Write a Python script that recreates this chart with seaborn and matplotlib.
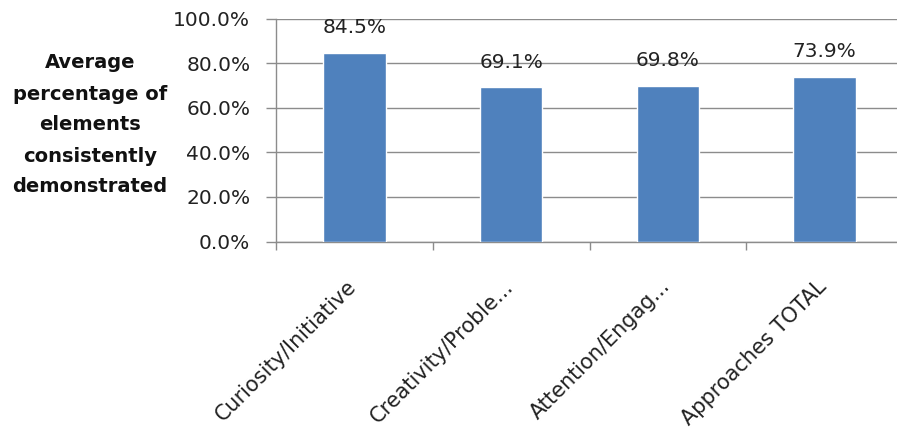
import matplotlib
matplotlib.use("Agg")
import matplotlib.pyplot as plt
import matplotlib.transforms as mtransforms
import seaborn as sns
import pandas as pd

categories = ["Curiosity/Initiative", "Creativity/Proble...", "Attention/Engag...", "Approaches TOTAL"]
values = [84.5, 69.1, 69.8, 73.9]
y_ticks = [0, 20, 40, 60, 80, 100]

df = pd.DataFrame({"category": categories, "value": values})

sns.set_theme(style="white")
plt.rcParams["font.family"] = ["DejaVu Sans"]

fs = 14.5
grey = "#8c8c8c"
text_col = "#222222"

fig = plt.figure(figsize=(8.97, 4.32), dpi=100)
ax = fig.add_axes([276 / 897, 1 - 241.5 / 432, 627 / 897, (241.5 - 18.5) / 432])

sns.barplot(data=df, x="category", y="value", color="#4F81BD", width=0.4,
            saturation=1, ax=ax, zorder=3)

ax.set_ylim(0, 100)
ax.set_xlim(-0.5, len(categories) - 0.5)
ax.set_yticks(y_ticks)
ax.set_yticklabels([f"{t:.1f}%" for t in y_ticks], fontsize=fs, color=text_col)
ax.yaxis.grid(True, color=grey, lw=1)
ax.set_axisbelow(True)

# category ticks sit between the bars
ax.set_xticks([i - 0.5 for i in range(len(categories) + 1)], minor=False)
ax.set_xticklabels([""] * (len(categories) + 1))
ax.set_xticks(range(len(categories)), minor=True)
ax.set_xticklabels(categories, minor=True, rotation=45, ha="right",
                   rotation_mode="anchor", fontsize=15, color=text_col)
ax.tick_params(axis="x", which="minor", bottom=False, length=0, pad=22)
ax.tick_params(axis="x", which="major", bottom=True, length=6, width=1,
               color=grey, direction="out")
ax.tick_params(axis="y", left=True, length=7, width=1, color=grey,
               direction="out", pad=11.5)

shift = mtransforms.ScaledTranslation(-8 / 100, -4 / 100, fig.dpi_scale_trans)
for lab in ax.get_xticklabels(minor=True):
    lab.set_transform(lab.get_transform() + shift)

for s in ["top", "right"]:
    ax.spines[s].set_visible(False)
for s in ["left", "bottom"]:
    ax.spines[s].set_color(grey)
    ax.spines[s].set_linewidth(1)

ax.set_xlabel("")
ax.set_ylabel("")

for i, v in enumerate(values):
    ax.text(i, v + 7, f"{v:.1f}%", ha="center", va="bottom", fontsize=fs,
            color=text_col, zorder=4)

fig.text(90 / 897, 1 - 125 / 432,
         "Average\npercentage of\nelements\nconsistently\ndemonstrated",
         ha="center", va="center", fontsize=14, fontweight="bold", color="#111111",
         linespacing=1.8)

fig.savefig("out.png", dpi=100)
